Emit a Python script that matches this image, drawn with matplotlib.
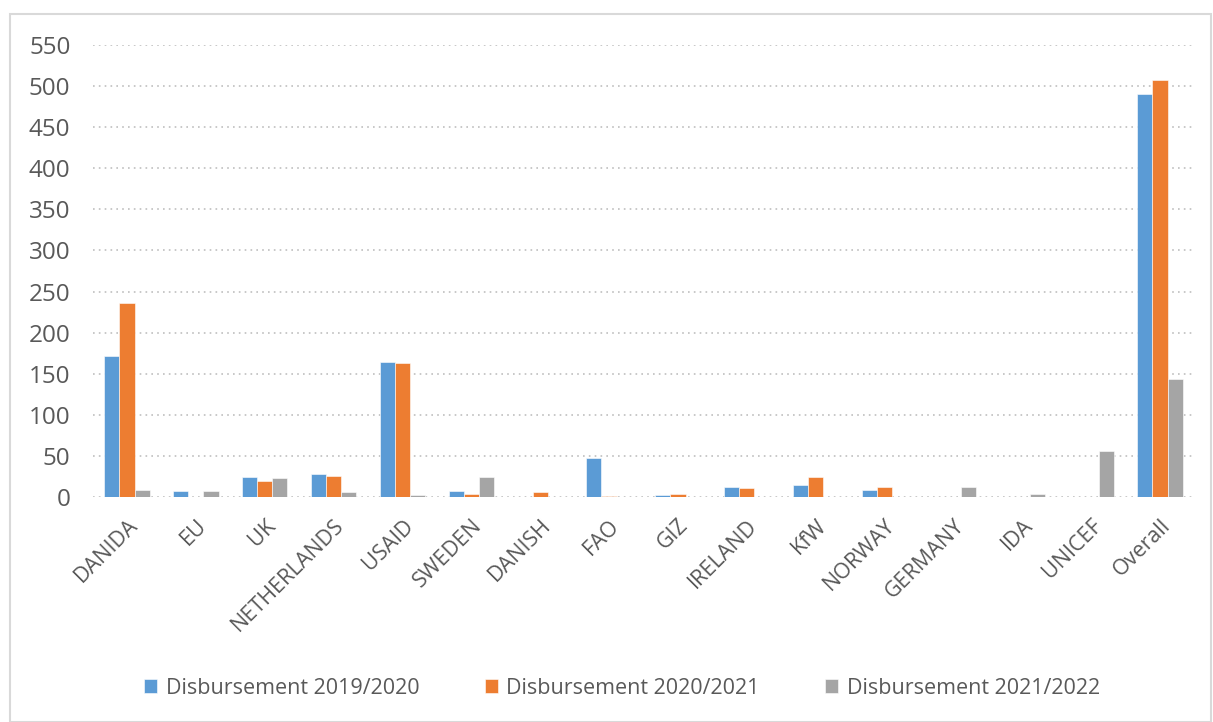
import matplotlib
matplotlib.use("Agg")
import matplotlib.pyplot as plt
import numpy as np
from matplotlib.patches import Rectangle

categories = ["DANIDA", "EU", "UK", "NETHERLANDS", "USAID", "SWEDEN", "DANISH", "FAO",
              "GIZ", "IRELAND", "KfW", "NORWAY", "GERMANY", "IDA", "UNICEF", "Overall"]
d2019 = [171, 7, 24, 28, 164, 7, 0, 47, 2, 12.5, 14, 9, 0, 0, 0, 490]
d2020 = [236, 0, 19, 26, 163, 4, 5.5, 1, 4, 10.5, 24, 12, 0, 0, 0, 508]
d2021 = [9, 7, 23, 6, 2.5, 24, 0, 0, 0, 0, 0, 0, 12, 4, 56, 144]
series_labels = ["Disbursement 2019/2020", "Disbursement 2020/2021", "Disbursement 2021/2022"]
colors = ["#5B9BD5", "#ED7D31", "#A5A5A5"]
yticks = list(range(0, 551, 50))

plt.rcParams['font.family'] = ['Open Sans', 'DejaVu Sans']
text_color = "#595959"

fig = plt.figure(figsize=(12.13, 7.22), dpi=100)
W, H = 1213, 722
ax = fig.add_axes([92.6 / W, 1 - 497 / H, (1194.4 - 92.6) / W, (497 - 45) / H])

x = np.arange(len(categories))
w = 0.22
for i, (vals, lab, c) in enumerate(zip([d2019, d2020, d2021], series_labels, colors)):
    ax.bar(x + (i - 1) * w, vals, width=w, color=c, label=lab, zorder=3,
           edgecolor="white", linewidth=0.4)

ax.set_xlim(-0.5, len(categories) - 0.5)
ax.set_ylim(0, 550)
ax.set_yticks(yticks)
ax.set_yticklabels([str(t) for t in yticks], fontsize=17.5, color=text_color)
ax.set_xticks(x)
ax.set_xticklabels(categories, rotation=45, ha="right", rotation_mode="anchor",
                   fontsize=15.5, color=text_color)
ax.tick_params(axis="both", length=0)
ax.tick_params(axis="y", pad=16)
ax.tick_params(axis="x", pad=13)
ax.grid(axis="y", color="#BFBFBF", linestyle=(0, (1, 2.5)), linewidth=1.2, zorder=0)
for s in ax.spines.values():
    s.set_visible(False)

fig.legend(loc="center", bbox_to_anchor=(622 / W, 1 - 688 / H), ncol=3, frameon=False,
           fontsize=15.5, labelcolor=text_color, handlelength=0.6, handleheight=0.6,
           handletextpad=0.4, columnspacing=3.05)

fig.patches.append(Rectangle((10 / W, 0), (W - 12) / W, 1 - 14 / H, transform=fig.transFigure,
                             fill=False, edgecolor="#D9D9D9", linewidth=1.5))

fig.savefig("out.png", dpi=100)
